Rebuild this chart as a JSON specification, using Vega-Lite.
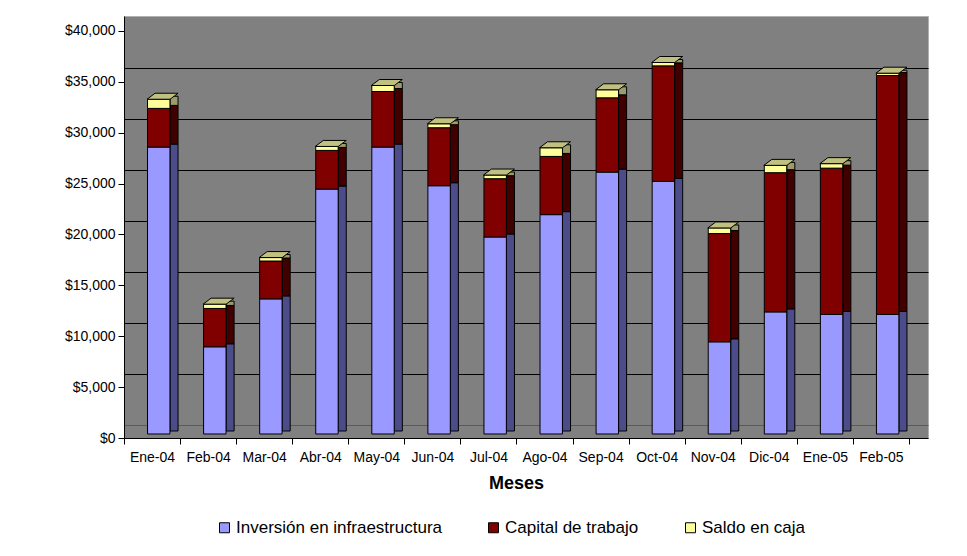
{
  "$schema": "https://vega.github.io/schema/vega-lite/v6.json",
  "width": 804,
  "height": 422,
  "autosize": {"type": "none"},
  "padding": {"left": 124, "top": 16, "right": 39, "bottom": 118},
  "background": "white",
  "config": {
    "font": "Liberation Sans",
    "view": {"fill": "#808080", "stroke": "#b0b0b0", "strokeWidth": 1}
  },
  "data": {
    "values": [
      {"mes": "Ene-04", "serie": "Inversión en infraestructura", "valor": 28200},
      {"mes": "Ene-04", "serie": "Capital de trabajo", "valor": 3800},
      {"mes": "Ene-04", "serie": "Saldo en caja", "valor": 900},
      {"mes": "Feb-04", "serie": "Inversión en infraestructura", "valor": 8570},
      {"mes": "Feb-04", "serie": "Capital de trabajo", "valor": 3770},
      {"mes": "Feb-04", "serie": "Saldo en caja", "valor": 420},
      {"mes": "Mar-04", "serie": "Inversión en infraestructura", "valor": 13280},
      {"mes": "Mar-04", "serie": "Capital de trabajo", "valor": 3720},
      {"mes": "Mar-04", "serie": "Saldo en caja", "valor": 340},
      {"mes": "Abr-04", "serie": "Inversión en infraestructura", "valor": 24070},
      {"mes": "Abr-04", "serie": "Capital de trabajo", "valor": 3800},
      {"mes": "Abr-04", "serie": "Saldo en caja", "valor": 390},
      {"mes": "May-04", "serie": "Inversión en infraestructura", "valor": 28200},
      {"mes": "May-04", "serie": "Capital de trabajo", "valor": 5460},
      {"mes": "May-04", "serie": "Saldo en caja", "valor": 590},
      {"mes": "Jun-04", "serie": "Inversión en infraestructura", "valor": 24400},
      {"mes": "Jun-04", "serie": "Capital de trabajo", "valor": 5700},
      {"mes": "Jun-04", "serie": "Saldo en caja", "valor": 390},
      {"mes": "Jul-04", "serie": "Inversión en infraestructura", "valor": 19360},
      {"mes": "Jul-04", "serie": "Capital de trabajo", "valor": 5730},
      {"mes": "Jul-04", "serie": "Saldo en caja", "valor": 360},
      {"mes": "Ago-04", "serie": "Inversión en infraestructura", "valor": 21560},
      {"mes": "Ago-04", "serie": "Capital de trabajo", "valor": 5720},
      {"mes": "Ago-04", "serie": "Saldo en caja", "valor": 850},
      {"mes": "Sep-04", "serie": "Inversión en infraestructura", "valor": 25740},
      {"mes": "Sep-04", "serie": "Capital de trabajo", "valor": 7300},
      {"mes": "Sep-04", "serie": "Saldo en caja", "valor": 790},
      {"mes": "Oct-04", "serie": "Inversión en infraestructura", "valor": 24830},
      {"mes": "Oct-04", "serie": "Capital de trabajo", "valor": 11350},
      {"mes": "Oct-04", "serie": "Saldo en caja", "valor": 330},
      {"mes": "Nov-04", "serie": "Inversión en infraestructura", "valor": 9060},
      {"mes": "Nov-04", "serie": "Capital de trabajo", "valor": 10640},
      {"mes": "Nov-04", "serie": "Saldo en caja", "valor": 550},
      {"mes": "Dic-04", "serie": "Inversión en infraestructura", "valor": 12000},
      {"mes": "Dic-04", "serie": "Capital de trabajo", "valor": 13680},
      {"mes": "Dic-04", "serie": "Saldo en caja", "valor": 720},
      {"mes": "Ene-05", "serie": "Inversión en infraestructura", "valor": 11750},
      {"mes": "Ene-05", "serie": "Capital de trabajo", "valor": 14380},
      {"mes": "Ene-05", "serie": "Saldo en caja", "valor": 440},
      {"mes": "Feb-05", "serie": "Inversión en infraestructura", "valor": 11750},
      {"mes": "Feb-05", "serie": "Capital de trabajo", "valor": 23480},
      {"mes": "Feb-05", "serie": "Saldo en caja", "valor": 230}
    ]
  },
  "transform": [
    {"stack": "valor", "groupby": ["mes"], "as": ["v0", "v1"]}
  ],
  "encoding": {
    "x": {
      "field": "mes",
      "type": "ordinal",
      "sort": ["Ene-04","Feb-04","Mar-04","Abr-04","May-04","Jun-04","Jul-04","Ago-04","Sep-04","Oct-04","Nov-04","Dic-04","Ene-05","Feb-05"],
      "scale": {"paddingInner": 0, "paddingOuter": 0.1695, "align": 0},
      "axis": {
        "title": "Meses",
        "tickBand": "extent",
        "labelAngle": 0,
        "labelFontSize": 14,
        "labelColor": "black",
        "labelPadding": 6,
        "tickColor": "black",
        "tickSize": 6,
        "domainColor": "black",
        "grid": false,
        "titleFontSize": 18,
        "titleFontWeight": "bold",
        "titleColor": "black",
        "titlePadding": 10,
        "titleX": 392
      }
    }
  },
  "layer": [
    {
      "mark": {"type": "tick", "opacity": 0},
      "encoding": {
        "y": {
          "field": "v1",
          "type": "quantitative",
          "scale": {"domain": [-1276, 40133], "nice": false, "zero": false},
          "axis": {
            "orient": "left",
            "grid": true,
            "gridColor": {"condition": {"test": "datum.value === 0", "value": "#5a5a5a"}, "value": "black"},
            "gridWidth": 1,
            "labels": false,
            "ticks": false,
            "domain": false,
            "title": null,
            "values": [0, 5000, 10000, 15000, 20000, 25000, 30000, 35000]
          }
        }
      }
    },
    {
      "encoding": {
        "y": {
          "field": "v1",
          "type": "quantitative",
          "scale": {"domain": [0, 41474], "nice": false, "zero": false},
          "axis": {
            "orient": "left",
            "title": null,
            "grid": false,
            "values": [0, 5000, 10000, 15000, 20000, 25000, 30000, 35000, 40000],
            "format": "$,.0f",
            "labelFontSize": 14,
            "labelColor": "black",
            "labelPadding": 3,
            "tickColor": "black",
            "tickSize": 6,
            "domainColor": "black"
          }
        }
      },
      "layer": [
        {
          "mark": {"type": "bar", "width": 8, "xOffset": 22, "yOffset": -7, "y2Offset": -7, "stroke": "black", "strokeWidth": 1},
          "encoding": {
            "y2": {"field": "v0"},
            "color": {
              "field": "serie",
              "type": "nominal",
              "scale": {"domain": ["Inversión en infraestructura", "Capital de trabajo", "Saldo en caja"], "range": ["#4c4c8a", "#400000", "#9b9b6b"]},
              "legend": null
            }
          }
        },
        {
          "mark": {"type": "bar", "width": {"band": 0.4}, "xOffset": 6.7, "yOffset": -4, "y2Offset": -4, "stroke": "black", "strokeWidth": 1},
          "encoding": {
            "y2": {"field": "v0"},
            "color": {
              "field": "serie",
              "type": "nominal",
              "scale": {"domain": ["Inversión en infraestructura", "Capital de trabajo", "Saldo en caja"], "range": ["#9999ff", "#800000", "#ffff99"]},
              "legend": {
                "title": null,
                "orient": "none",
                "direction": "horizontal",
                "legendX": 92,
                "legendY": 503,
                "symbolType": "square",
                "symbolSize": 100,
                "symbolStrokeColor": "black",
                "symbolStrokeWidth": 1,
                "labelFontSize": 17,
                "labelColor": "black",
                "labelLimit": 0,
                "labelOffset": 3,
                "columnPadding": 43
              }
            }
          }
        },
        {
          "transform": [{"filter": "datum.serie === 'Saldo en caja'"}],
          "mark": {"type": "point", "shape": "M-15.5,3L7.5,3L15.5,-3L-7.5,-3Z", "size": 4, "filled": true, "color": "#c0c080", "stroke": "black", "strokeWidth": 1, "opacity": 1, "xOffset": 10.5, "yOffset": -7}
        }
      ],
      "resolve": {"scale": {"color": "independent"}}
    }
  ],
  "resolve": {"scale": {"y": "independent"}, "axis": {"y": "independent"}}
}
